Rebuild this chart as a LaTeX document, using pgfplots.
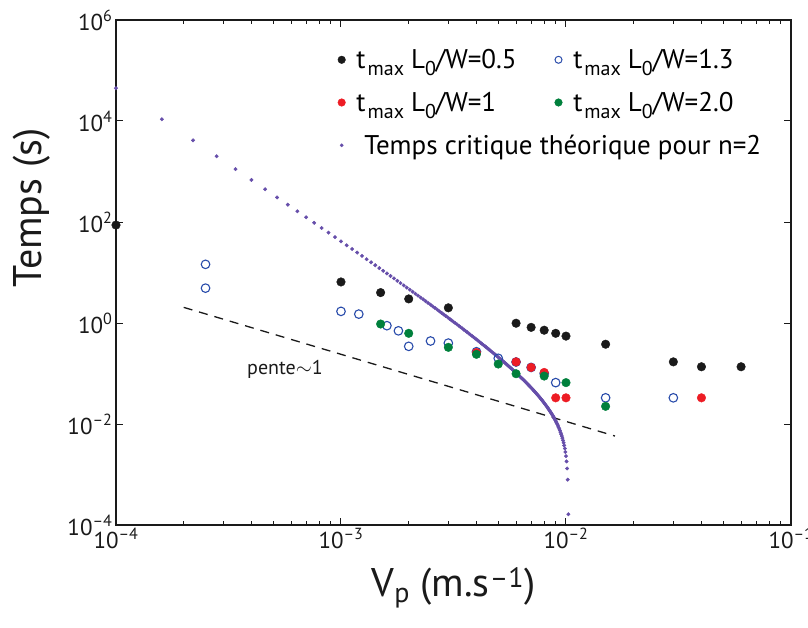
\documentclass[border=0pt]{standalone}
\usepackage{fontspec}
\setmainfont{PT Sans}
\usepackage{pgfplots}
\pgfplotsset{compat=1.18}
\definecolor{cblack}{RGB}{26,26,26}
\definecolor{cblue}{RGB}{40,75,170}
\definecolor{cred}{RGB}{237,28,36}
\definecolor{cgreen}{RGB}{0,128,60}
\definecolor{cpurple}{RGB}{102,78,170}
\newcommand{\legsub}[1]{\raisebox{-7bp}{\fontsize{20bp}{20bp}\selectfont #1}}
\newcommand{\legtxt}[1]{\hspace{9bp}t\hspace{2bp}\legsub{max}\hspace{7bp}L\legsub{0}/W=#1}
\begin{document}
\begin{tikzpicture}
\begin{axis}[
  name=ax,
  xmode=log, ymode=log,
  scale only axis, width=675bp, height=505bp,
  xmin=1e-4, xmax=1e-1, ymin=1e-4, ymax=1e6,
  clip=false,
  xtick={1e-4,1e-3,1e-2,1e-1},
  xticklabels={10\textsuperscript{–4},10\textsuperscript{–3},10\textsuperscript{–2},10\textsuperscript{–1}},
  minor xtick={2e-4,3e-4,4e-4,5e-4,6e-4,7e-4,8e-4,9e-4,2e-3,3e-3,4e-3,5e-3,6e-3,7e-3,8e-3,9e-3,2e-2,3e-2,4e-2,5e-2,6e-2,7e-2,8e-2,9e-2},
  ytick={1e-4,1e-2,1,1e2,1e4,1e6},
  yticklabels={10\textsuperscript{–4},10\textsuperscript{–2},10\textsuperscript{0},10\textsuperscript{2},10\textsuperscript{4},10\textsuperscript{6}},
  yminorticks=false,
  tick align=inside,
  major tick length=7bp, minor tick length=4bp,
  axis line style={line width=1.6bp, cblack},
  every tick/.style={line width=1bp, cblack},
  ticklabel style={font=\fontsize{23bp}{27bp}\selectfont, text=cblack},
  xlabel={V\textsubscript{p} (m.s\textsuperscript{–1})},
  ylabel={Temps (s)},
  xlabel style={font=\fontsize{40bp}{48bp}\selectfont, text=cblack, at={(axis description cs:0.5,-0.125)}, anchor=center},
  ylabel style={font=\fontsize{40bp}{48bp}\selectfont, text=cblack, at={(axis description cs:-0.125,0.628)}, anchor=center},
  legend columns=2,
  legend cell align=left,
  legend style={draw=none, fill=none, at={(rel axis cs:0.324,0.950)}, anchor=north west,
    font=\fontsize{27bp}{32bp}\selectfont, row sep=18bp,
    /tikz/every even column/.append style={column sep=36bp}},
]
% theoretical critical time (n=2)
\addplot[only marks, mark=*, mark size=1.75bp, cpurple, mark options={draw=cpurple, fill=cpurple}, forget plot] table {
x y
1.0e-4 44560
1.6e-4 10840
2.2e-4 4149
2.8e-4 2002
3.4e-4 1113
4.0e-4 680.4
4.6e-4 445.3
5.2e-4 306.6
5.8e-4 219.9
6.4e-4 162.9
7.0e-4 123.8
7.6e-4 96.3
8.2e-4 76.27
8.8e-4 61.41
9.4e-4 50.11
1.00e-3 41.41
1.06e-3 34.58
1.12e-3 29.17
1.18e-3 24.81
1.24e-3 21.27
1.30e-3 18.36
1.36e-3 15.95
1.42e-3 13.93
1.48e-3 12.24
1.54e-3 10.81
1.60e-3 9.583
1.66e-3 8.531
1.72e-3 7.627
1.78e-3 6.842
1.84e-3 6.16
1.90e-3 5.564
1.96e-3 5.04
2.02e-3 4.577
2.08e-3 4.168
2.14e-3 3.804
2.20e-3 3.480
2.26e-3 3.191
2.32e-3 2.932
2.38e-3 2.699
2.44e-3 2.489
2.50e-3 2.301
2.56e-3 2.129
2.62e-3 1.974
2.68e-3 1.833
2.74e-3 1.704
2.80e-3 1.587
2.86e-3 1.479
2.92e-3 1.381
2.98e-3 1.291
3.04e-3 1.208
3.10e-3 1.131
3.16e-3 1.061
3.22e-3 0.9959
3.28e-3 0.9359
3.34e-3 0.8803
3.40e-3 0.8288
3.46e-3 0.7806
3.52e-3 0.7361
3.58e-3 0.6947
3.64e-3 0.6561
3.70e-3 0.6202
3.76e-3 0.5866
3.82e-3 0.5553
3.88e-3 0.526
3.94e-3 0.4985
4.00e-3 0.4728
4.06e-3 0.4487
4.12e-3 0.4259
4.18e-3 0.4046
4.24e-3 0.3848
4.30e-3 0.3660
4.36e-3 0.3482
4.42e-3 0.3315
4.48e-3 0.3157
4.54e-3 0.3009
4.60e-3 0.2868
4.66e-3 0.2735
4.72e-3 0.2609
4.78e-3 0.2490
4.84e-3 0.2378
4.90e-3 0.2271
4.96e-3 0.2170
5.02e-3 0.2074
5.08e-3 0.1983
5.14e-3 0.1892
5.20e-3 0.1815
5.26e-3 0.1737
5.32e-3 0.1663
5.38e-3 0.1592
5.44e-3 0.1525
5.50e-3 0.1460
5.56e-3 0.1399
5.62e-3 0.1341
5.68e-3 0.1286
5.74e-3 0.1233
5.80e-3 0.1182
5.86e-3 0.1134
5.92e-3 0.1088
5.98e-3 0.1043
6.04e-3 0.1001
6.10e-3 0.09609
6.16e-3 0.09223
6.22e-3 0.08853
6.28e-3 0.08499
6.34e-3 0.0816
6.40e-3 0.07836
6.46e-3 0.07524
6.52e-3 0.07225
6.58e-3 0.06938
6.64e-3 0.06664
6.70e-3 0.0640
6.76e-3 0.06147
6.82e-3 0.05904
6.88e-3 0.0567
6.94e-3 0.05445
7.00e-3 0.05229
7.06e-3 0.05022
7.12e-3 0.04822
7.18e-3 0.0463
7.24e-3 0.04445
7.30e-3 0.04267
7.36e-3 0.04096
7.42e-3 0.03931
7.48e-3 0.03772
7.54e-3 0.03619
7.60e-3 0.03471
7.66e-3 0.03328
7.72e-3 0.03191
7.78e-3 0.03058
7.84e-3 0.0293
7.90e-3 0.02807
7.96e-3 0.02688
8.02e-3 0.02573
8.08e-3 0.02461
8.14e-3 0.02354
8.20e-3 0.0225
8.26e-3 0.0215
8.32e-3 0.02053
8.38e-3 0.01958
8.44e-3 0.01867
8.50e-3 0.0178
8.56e-3 0.01695
8.62e-3 0.01612
8.68e-3 0.01532
8.74e-3 0.01455
8.80e-3 0.0138
8.86e-3 0.01307
8.92e-3 0.01236
8.98e-3 0.01168
9.04e-3 0.01101
9.10e-3 0.01037
9.16e-3 0.009738
9.22e-3 0.009127
9.28e-3 0.008531
9.34e-3 0.007951
9.40e-3 0.007386
9.46e-3 0.006834
9.52e-3 0.006295
9.58e-3 0.005768
9.64e-3 0.005251
9.70e-3 0.004745
9.76e-3 0.004246
9.82e-3 0.003756
9.88e-3 0.00327
9.94e-3 0.002787
1.000e-2 0.002305
1.006e-2 0.001817
1.012e-2 0.001318
1.018e-2 0.000789
1.024e-2 0.0001635
};
% L0/W = 1.3 (open circles)
\addplot[only marks, mark=o, mark size=4.3bp, mark options={draw=cblue, line width=1.1bp, fill=none}, forget plot] coordinates {
(2.5e-4,14.5) (2.5e-4,4.9) (1e-3,1.7) (1.2e-3,1.5) (1.6e-3,0.885) (1.8e-3,0.70)
(2e-3,0.345) (2.5e-3,0.44) (3e-3,0.40) (4e-3,0.27) (5e-3,0.20) (6e-3,0.169)
(7e-3,0.132) (8e-3,0.10) (9e-3,0.066) (1.5e-2,0.033) (3e-2,0.033)
};
% L0/W = 1
\addplot[only marks, mark=*, mark size=4.3bp, mark options={draw=cred, fill=cred}, forget plot] coordinates {
(4e-3,0.26) (6e-3,0.17) (7e-3,0.132) (8e-3,0.105) (9e-3,0.033) (1e-2,0.033) (4e-2,0.033)
};
% L0/W = 2.0
\addplot[only marks, mark=*, mark size=4.3bp, mark options={draw=cgreen, fill=cgreen}, forget plot] coordinates {
(1.5e-3,0.955) (2e-3,0.625) (3e-3,0.33) (4e-3,0.24) (5e-3,0.154) (6e-3,0.099)
(8e-3,0.089) (1e-2,0.066) (1.5e-2,0.0224)
};
% L0/W = 0.5
\addplot[only marks, mark=*, mark size=4.3bp, mark options={draw=cblack, fill=cblack}, forget plot] coordinates {
(1e-4,87) (1e-3,6.5) (1.5e-3,4.0) (2e-3,3.0) (3e-3,2.0) (6e-3,0.99) (7e-3,0.82)
(8e-3,0.72) (9e-3,0.625) (1e-2,0.55) (1.5e-2,0.38) (3e-2,0.17) (4e-2,0.136) (6e-2,0.136)
};
% slope line
\addplot[cblack, line width=1.3bp, dash pattern=on 9bp off 7bp, forget plot] coordinates {(2e-4,2.04) (1.65e-2,5.78e-3)};
\node[font=\fontsize{20bp}{24bp}\selectfont, text=cblack] at (axis cs:5.64e-4,0.1228) {pente$\sim$1};
% legend
\addlegendimage{only marks, mark=*, mark size=3.8bp, mark options={draw=cblack, fill=cblack}}
\addlegendentry{\legtxt{0.5}}
\addlegendimage{only marks, mark=o, mark size=3.5bp, mark options={draw=cblue, line width=1bp, fill=none}}
\addlegendentry{\legtxt{1.3}}
\addlegendimage{only marks, mark=*, mark size=3.8bp, mark options={draw=cred, fill=cred}}
\addlegendentry{\legtxt{1}}
\addlegendimage{only marks, mark=*, mark size=3.8bp, mark options={draw=cgreen, fill=cgreen}}
\addlegendentry{\legtxt{2.0}}
\addlegendimage{only marks, mark=*, mark size=1.6bp, mark options={draw=cpurple, fill=cpurple}}
\addlegendentry{\makebox[0pt][l]{\hspace{17bp}Temps critique théorique pour n=2}}
\end{axis}
\pgfresetboundingbox
\path[use as bounding box] ([shift={(-116bp,-102bp)}]ax.south west) rectangle ([shift={(17bp,20bp)}]ax.north east);
\end{tikzpicture}
\end{document}
